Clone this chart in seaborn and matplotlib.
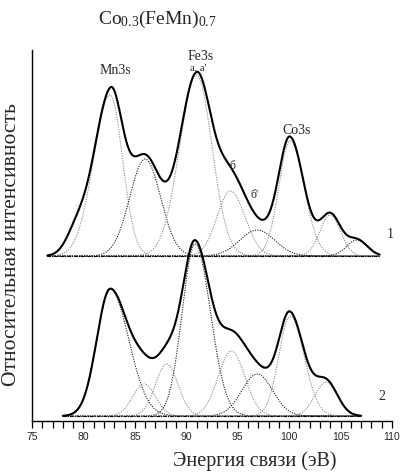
import numpy as np
import pandas as pd
import matplotlib
matplotlib.use("Agg")
import matplotlib.pyplot as plt
import seaborn as sns

# ---------------- data ----------------
# spectrum 1 (upper): fitted components  (centre eV, height, sigma_left, sigma_right)
s1_names   = ["Mn3s", "Mn3s sat", "Fe3s a", "b", "b'", "Co3s", "Co sat1", "Co sat2"]
s1_centre  = [82.6, 86.0, 91.0, 94.3, 96.9, 100.1, 104.0, 106.6]
s1_height  = [161, 97, 181, 65, 26, 115, 41, 16]
s1_sig_l   = [1.6, 1.5, 1.65, 1.3, 1.7, 1.1, 1.0, 1.0]
s1_sig_r   = [1.2, 1.5, 1.5, 1.4, 1.7, 1.35, 1.0, 1.0]
s1_shade   = ["g", "k", "g", "g", "k", "g", "g", "k"]
# low-energy tail included in the envelope of spectrum 1 only
s1_tail    = (79.3, 21, 1.0)
s1_range   = (76.5, 108.8)
s1_offset  = 165

# spectrum 2 (lower)
s2_names   = ["Mn3s", "Mn3s sat", "c3", "Fe3s", "b", "b'", "Co3s", "Co sat"]
s2_centre  = [82.6, 85.9, 88.1, 90.85, 94.4, 96.9, 100.1, 103.6]
s2_height  = [127, 32, 52, 172, 65, 42, 100, 34]
s2_sig_l   = [1.3, 1.1, 1.1, 1.25, 1.3, 1.5, 1.1, 1.1]
s2_sig_r   = [1.8, 1.1, 1.1, 1.5, 1.3, 1.5, 1.35, 1.1]
s2_shade   = ["k", "g", "g", "k", "g", "k", "g", "g"]
s2_range   = (78.0, 107.0)
s2_offset  = 5

x_ticks = [75, 80, 85, 90, 95, 100, 105, 110]

# ---------------- style ----------------
sns.set_theme(style="ticks")
plt.rcParams["font.family"] = ["Liberation Serif", "DejaVu Serif"]
plt.rcParams["mathtext.fontset"] = "custom"
plt.rcParams["mathtext.rm"] = "Liberation Serif"
plt.rcParams["mathtext.it"] = "Liberation Serif:italic"

W, H = 400, 476
fig = plt.figure(figsize=(W / 100, H / 100), dpi=100)
ax = fig.add_axes([32 / W, 1 - 421 / H, 360 / W, 371 / H])
ax.set_xlim(75, 110)
ax.set_ylim(0, 371)

GREY = "#8a8a8a"
BLACK = "#1a1a1a"


def agauss(x, c, h, sl, sr):
    s = np.where(x < c, sl, sr)
    return h * np.exp(-((x - c) ** 2) / (2 * s ** 2))


def draw_spectrum(centre, height, sl, sr, shade, rng, off, tail=None):
    x = np.linspace(rng[0], rng[1], 700)
    total = np.zeros_like(x)
    for c, h, a, b, sh in zip(centre, height, sl, sr, shade):
        y = agauss(x, c, h, a, b)
        total += y
        df = pd.DataFrame({"E": x, "I": y + off})
        sns.lineplot(data=df, x="E", y="I", ax=ax, color=GREY if sh == "g" else BLACK,
                     lw=0.8, linestyle=(0, (1, 1.2)), estimator=None, sort=False)
    if tail is not None:
        total += agauss(x, tail[0], tail[1], tail[2], tail[2])
    # baseline
    ax.plot([rng[0], rng[1]], [off, off], color="black", lw=0.8,
            linestyle=(0, (3, 1, 1, 1)))
    df = pd.DataFrame({"E": x, "I": total + off})
    sns.lineplot(data=df, x="E", y="I", ax=ax, color="black", lw=1.5,
                 estimator=None, sort=False)


draw_spectrum(s1_centre, s1_height, s1_sig_l, s1_sig_r, s1_shade, s1_range, s1_offset, s1_tail)
draw_spectrum(s2_centre, s2_height, s2_sig_l, s2_sig_r, s2_shade, s2_range, s2_offset)

# ---------------- axes ----------------
sns.despine(ax=ax)
ax.set_yticks([])
ax.set_xticks(x_ticks)
ax.set_xticks(np.arange(75, 111, 1), minor=True)
ax.tick_params(axis="x", which="both", direction="out", length=5, width=0.9,
               color="black", pad=3)
for lab in ax.get_xticklabels():
    lab.set_family(["Liberation Sans", "DejaVu Sans"])
    lab.set_fontsize(7.5)
for sp in ("left", "bottom"):
    ax.spines[sp].set_linewidth(1.0)
    ax.spines[sp].set_color("black")

ax.set_xlabel("Энергия связи (эВ)", fontsize=14.5)
ax.set_ylabel("Относительная интенсивность", fontsize=15.5)
ax.xaxis.set_label_coords((255 - 32) / 360, (421 - 451) / 371)
ax.yaxis.set_label_coords((21 - 32) / 360, (421 - 245) / 371)

# peak labels (positions in data units: eV, px above axis)
ax.text(83.1, 421 - 71, "Mn3s", ha="center", va="center", fontsize=10)
ax.text(91.4, 421 - 57, "Fe3s", ha="center", va="center", fontsize=10)
ax.text(91.2, 421 - 68, "a, a'", ha="center", va="center", fontsize=7.5)
ax.text(100.75, 421 - 131, "Co3s", ha="center", va="center", fontsize=10)
ax.text(94.5, 421 - 166, "б", ha="center", va="center", fontsize=8.5)
ax.text(96.6, 421 - 195, "б'", ha="center", va="center", fontsize=8.5)
ax.text(109.8, 421 - 235, "1", ha="center", va="center", fontsize=10)
ax.text(109.0, 421 - 397, "2", ha="center", va="center", fontsize=10)

fig.text(157 / W, 1 - 19 / H, r"Co$_{0.3}$(FeMn)$_{0.7}$", ha="center", va="center",
         fontsize=14)

fig.savefig("out.png", dpi=100)
